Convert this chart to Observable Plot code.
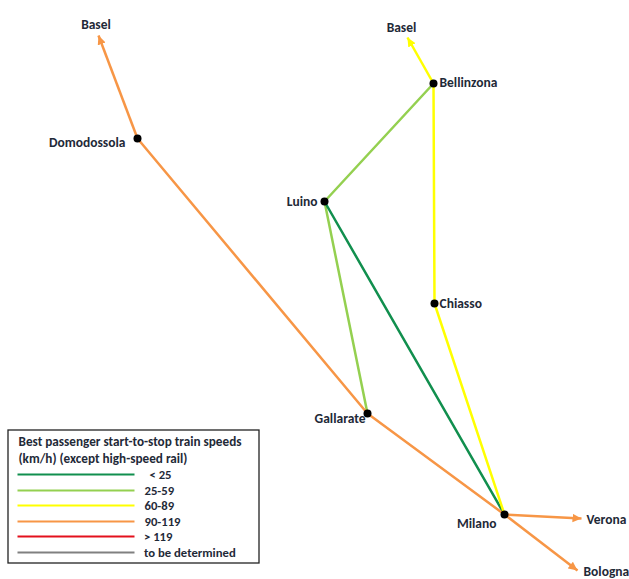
<!DOCTYPE html>
<html><head><meta charset="utf-8">
<script src="https://cdn.jsdelivr.net/npm/d3@7"></script>
<script src="https://cdn.jsdelivr.net/npm/@observablehq/plot@0.6"></script>
<style>html,body{margin:0;padding:0;background:#fff;overflow:hidden}svg{display:block}</style>
</head><body><div id="chart"></div>
<script>
// Map-space positions of the places on the schematic
const stationNames = ["Domodossola","Bellinzona","Luino","Chiasso","Gallarate","Milano"];
const stationX = [137,433,324,434,367,504];
const stationY = [138,83,201,303,413,514];
const stationLabelX = [125,439,317,439,365,496];
const stationLabelY = [142,82,201,303,418,523];
const stationAnchor = ["end","start","end","start","end","end"];

const terminalNames = ["Basel","Basel","Verona","Bologna"];
const terminalX = [98,407,581,577];
const terminalY = [35,37,518,570];
const terminalLabelX = [95.5,401,586,583];
const terminalLabelY = [24,27,519,571];
const terminalAnchor = ["middle","middle","start","start"];

const speedClasses = ["< 25","25-59","60-89","90-119","> 119","to be determined"];
const speedColors = ["#118f4e","#94d050","#ffff00","#f79646","#e3101c","#808080"];

const segFrom = ["Luino","Bellinzona","Luino","Bellinzona","Chiasso","Domodossola","Gallarate"];
const segTo   = ["Gallarate","Luino","Milano","Chiasso","Milano","Gallarate","Milano"];
const segClass= ["25-59","25-59","< 25","60-89","60-89","90-119","90-119"];

const arrowFrom = ["Domodossola","Bellinzona","Milano","Milano"];
const arrowTo = [0,1,2,3];
const arrowClass = ["90-119","60-89","90-119","90-119"];

const legendTitle = ["Best passenger start-to-stop train speeds","(km/h) (except high-speed rail)"];
const legendTitleY = [441,458];
const legendY = [474,490,505,521,536,552];
const legendLabelX = [149,144,144,144,143.5,143.5];

const idx = Object.fromEntries(stationNames.map((n,i)=>[n,i]));
const segs = segFrom.map((f,i)=>({x1:stationX[idx[f]],y1:stationY[idx[f]],x2:stationX[idx[segTo[i]]],y2:stationY[idx[segTo[i]]],c:segClass[i]}));
const arrows = arrowFrom.map((f,i)=>({x1:stationX[idx[f]],y1:stationY[idx[f]],x2:terminalX[arrowTo[i]],y2:terminalY[arrowTo[i]],c:arrowClass[i]}));
const stations = stationNames.map((n,i)=>({n,x:stationX[i],y:stationY[i],lx:stationLabelX[i],ly:stationLabelY[i],a:stationAnchor[i]}));
const terminals = terminalNames.map((n,i)=>({n,x:terminalLabelX[i],y:terminalLabelY[i],a:terminalAnchor[i]}));
const legendRows = speedClasses.map((c,i)=>({c,y:legendY[i],lx:legendLabelX[i]}));

const placeLabels = [
  ...stations.map(d=>({n:d.n,x:d.lx,y:d.ly,a:d.a})),
  ...terminals
];

let mid=0;
function headMarker(color){
  const id="head"+(mid++);
  const m=d3.create("svg:marker").attr("id",id).attr("viewBox","-6 -5 10 10")
    .attr("markerUnits","userSpaceOnUse").attr("markerWidth",10).attr("markerHeight",10)
    .attr("orient","auto").attr("refX",3).attr("refY",0);
  m.append("path").attr("d","M-6,-4.2L3,0L-6,4.2Z").attr("fill",color);
  return m.node();
}

const font={fontFamily:"Carlito, Lato, 'Open Sans', sans-serif",fontWeight:"bold",fill:"#1f2a38",fontSize:13.5};
const rowFont={...font,fontSize:12.7};
const color={domain:speedClasses,range:speedColors};
const labelsAt=a=>Plot.text(placeLabels.filter(d=>d.a===a),{x:"x",y:"y",text:"n",textAnchor:a,...font});

const chart=Plot.plot({
  width:629,height:579,margin:0,
  x:{domain:[0,629],range:[0,629],axis:null},
  y:{domain:[0,579],range:[0,579],axis:null},
  color,
  style:{background:"#fff"},
  marks:[
    Plot.link(segs,{x1:"x1",y1:"y1",x2:"x2",y2:"y2",stroke:"c",strokeWidth:2.5,strokeLinecap:"round"}),
    Plot.link(arrows,{x1:"x1",y1:"y1",x2:"x2",y2:"y2",stroke:"c",strokeWidth:2.5,markerEnd:headMarker}),
    Plot.dot(stations,{x:"x",y:"y",r:4,fill:"#000",stroke:"none"}),
    labelsAt("start"),labelsAt("end"),labelsAt("middle"),
    Plot.rect([{x1:8,x2:259,y1:430,y2:563}],{x1:"x1",x2:"x2",y1:"y1",y2:"y2",fill:"#fff",stroke:"#222",strokeWidth:1.3}),
    Plot.text(legendTitle,{x:18,y:(d,i)=>legendTitleY[i],text:d=>d,textAnchor:"start",...font,fontSize:13.2}),
    Plot.link(legendRows,{x1:17,x2:134,y1:"y",y2:"y",stroke:"c",strokeWidth:2}),
    Plot.text(legendRows,{x:"lx",y:"y",text:"c",textAnchor:"start",...rowFont})
  ]
});
document.getElementById("chart").append(chart);
</script></body></html>
